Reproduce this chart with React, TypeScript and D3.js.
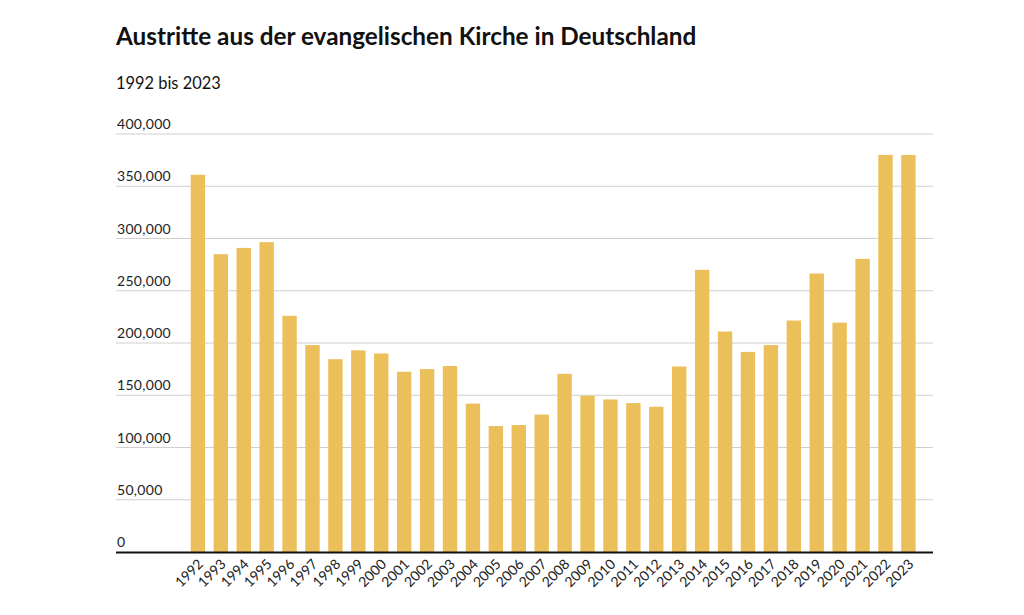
import { useRef, useEffect } from 'react';
import * as d3 from 'd3';

const years = [
  '1992', '1993', '1994', '1995', '1996', '1997', '1998', '1999', '2000', '2001', '2002',
  '2003', '2004', '2005', '2006', '2007', '2008', '2009', '2010', '2011', '2012', '2013',
  '2014', '2015', '2016', '2017', '2018', '2019', '2020', '2021', '2022', '2023',
];
const exits = [
  361000, 285000, 291000, 296500, 226000, 198000, 184500, 193000, 190000, 172500, 175000,
  178000, 142000, 120500, 121500, 131500, 170500, 149500, 146000, 142500, 139000, 177500,
  270000, 211000, 191500, 198000, 221500, 266500, 219500, 280500, 380000, 380000,
];
const yTicks = [0, 50000, 100000, 150000, 200000, 250000, 300000, 350000, 400000];

const title = 'Austritte aus der evangelischen Kirche in Deutschland';
const subtitle = '1992 bis 2023';

export default function App() {
  const svgRef = useRef<SVGSVGElement>(null);
  const width = 1024;
  const height = 615;

  useEffect(() => {
    const svg = d3.select(svgRef.current);
    svg.selectAll('*').remove();

    const font = 'Lato, "Open Sans", sans-serif';
    const left = 116, right = 933, top = 134, bottom = 552;

    const x = d3.scaleBand<string>().domain(years).range([190.7, 915.6]).paddingInner(0.372).paddingOuter(0);
    const y = d3.scaleLinear().domain([0, 400000]).range([bottom, top]);
    const fmt = d3.format(',');

    svg.append('text').attr('x', 116).attr('y', 45)
      .attr('font-family', font).attr('font-weight', 'bold').attr('font-size', '24.3px').attr('fill', '#111')
      .text(title);
    svg.append('text').attr('x', 116).attr('y', 89)
      .attr('font-family', font).attr('font-size', '16.4px').attr('fill', '#111')
      .text(subtitle);

    // Grid + y labels
    const g = svg.append('g');
    yTicks.forEach((t) => {
      if (t > 0) {
        g.append('line').attr('x1', left).attr('x2', right).attr('y1', y(t)).attr('y2', y(t))
          .attr('stroke', '#cfcfcf').attr('stroke-width', 1);
      }
      g.append('text').attr('x', left + 1).attr('y', y(t) - 5)
        .attr('font-family', font).attr('font-size', '14px').attr('letter-spacing', '0.3px').attr('fill', '#222')
        .text(fmt(t));
    });

    // Bars
    g.selectAll('rect.bar').data(exits).enter().append('rect')
      .attr('class', 'bar')
      .attr('x', (_, i) => x(years[i])!)
      .attr('width', x.bandwidth())
      .attr('y', (d) => y(d))
      .attr('height', (d) => bottom - y(d))
      .attr('fill', '#ebc05b');

    // Baseline
    g.append('line').attr('x1', left).attr('x2', right).attr('y1', bottom + 0.5).attr('y2', bottom + 0.5)
      .attr('stroke', '#111').attr('stroke-width', 2.2);

    // Year labels
    years.forEach((yr) => {
      const cx = x(yr)! + x.bandwidth() / 2;
      g.append('text')
        .attr('transform', `translate(${cx + 6},${bottom + 13}) rotate(-45)`)
        .attr('text-anchor', 'end')
        .attr('font-family', font).attr('font-size', '14px').attr('fill', '#222')
        .text(yr);
    });
  }, []);

  return (
    <svg ref={svgRef} width={width} height={height} viewBox={`0 0 ${width} ${height}`}
      style={{ position: 'absolute', left: 0, top: 0, display: 'block', background: '#fff' }} />
  );
}
